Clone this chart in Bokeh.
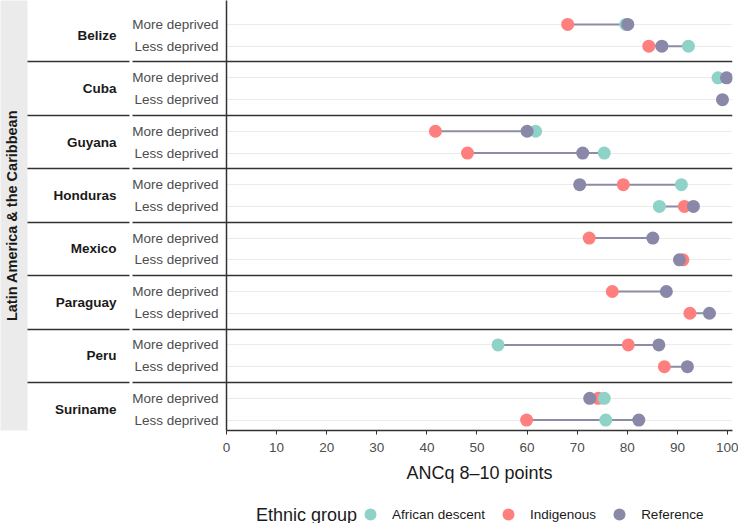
import math
from bokeh.plotting import figure
from bokeh.layouts import column
from bokeh.models import (Range1d, FixedTicker, LinearAxis, Legend, LegendItem,
                          ColumnDataSource, Label)
from bokeh.embed import file_html
from bokeh.resources import INLINE

# ---------------- data ----------------
region = "Latin America & the Caribbean"
countries = ["Belize", "Cuba", "Guyana", "Honduras", "Mexico", "Paraguay", "Peru", "Suriname"]
deprivation_levels = ["More deprived", "Less deprived"]
x_ticks = [0, 10, 20, 30, 40, 50, 60, 70, 80, 90, 100]
x_title = "ANCq 8\u201310 points"
legend_title = "Ethnic group"
group_names = ["African descent", "Indigenous", "Reference"]
nan = float("nan")
# rows: Belize More, Belize Less, Cuba More, Cuba Less, ...
african_descent = [79.7, 92.2, 98.1, nan, 61.7, 75.4, 90.8, 86.4,
                   nan, nan, nan, nan, 54.2, nan, 75.4, 75.7]
indigenous = [68.1, 84.3, nan, nan, 41.7, 48.1, 79.2, 91.4,
              72.4, 91.1, 77.0, 92.5, 80.2, 87.4, 74.2, 59.9]
reference = [80.1, 86.9, 99.8, 99.0, 60.0, 71.1, 70.5, 93.2,
             85.1, 90.4, 87.8, 96.4, 86.3, 92.0, 72.5, 82.3]

# ---------------- styling ----------------
FONT = "Liberation Sans"
COLORS = {"African descent": "#8FD3C8", "Indigenous": "#FF7F7F", "Reference": "#8A88A8"}
SEG_COLOR = "#8C8CA6"
DARK = "#333333"
ROW_OFFSETS = (0.297, 0.705)   # row positions inside each country panel

# ---------------- derived positions ----------------
row_y, row_labels = [], []
for i, c in enumerate(countries):
    for k, lev in enumerate(deprivation_levels):
        row_y.append(round(i + ROW_OFFSETS[k], 4))
        row_labels.append(lev)
centers = [round(i + (ROW_OFFSETS[0] + ROW_OFFSETS[1]) / 2, 4) for i in range(len(countries))]
separators = [float(i) for i in range(1, len(countries))]

series = {"African descent": african_descent, "Indigenous": indigenous, "Reference": reference}

seg_x0, seg_x1, seg_y = [], [], []
for r, y in enumerate(row_y):
    vals = [series[g][r] for g in group_names if not math.isnan(series[g][r])]
    if len(vals) > 1:
        seg_x0.append(min(vals)); seg_x1.append(max(vals)); seg_y.append(y)

p = figure(width=738, height=485, x_range=Range1d(0, 101), y_range=Range1d(7.90, -0.151),
           output_backend="svg", toolbar_location=None,
           min_border_left=0, min_border_right=6, min_border_top=0, min_border_bottom=0)
p.outline_line_color = None
p.background_fill_color = "white"
p.border_fill_color = "white"

# grids
p.xgrid.visible = False
row_ticker = FixedTicker(ticks=row_y, minor_ticks=separators)
p.yaxis.ticker = row_ticker
p.ygrid.ticker = row_ticker
p.ygrid.grid_line_color = "#EBEBEB"
p.ygrid.grid_line_width = 1
p.ygrid.minor_grid_line_color = DARK
p.ygrid.minor_grid_line_width = 1.5

# connecting segments
p.segment(x0=seg_x0, y0=seg_y, x1=seg_x1, y1=seg_y, line_color=SEG_COLOR, line_width=2)

# points (drawing order: Indigenous, African descent, Reference)
for g in ["Indigenous", "African descent", "Reference"]:
    xs = [v for v in series[g] if not math.isnan(v)]
    ys = [y for v, y in zip(series[g], row_y) if not math.isnan(v)]
    src = ColumnDataSource(dict(x=xs, y=ys))
    p.scatter("x", "y", source=src, size=13, fill_color=COLORS[g], line_color=None)

# x axis
xa = p.xaxis[0]
xa.ticker = FixedTicker(ticks=x_ticks)
xa.axis_label = x_title
xa.axis_label_text_font = FONT
xa.axis_label_text_font_size = "18px"
xa.axis_label_text_font_style = "normal"
xa.axis_label_text_color = "#1a1a1a"
xa.axis_label_standoff = 8
xa.major_label_text_font = FONT
xa.major_label_text_font_size = "13.5px"
xa.major_label_text_color = "#4d4d4d"
xa.major_label_standoff = 8
xa.major_tick_out = 4
xa.major_tick_in = 0
xa.minor_tick_out = 0
xa.minor_tick_in = 0
xa.major_tick_line_color = DARK
xa.axis_line_color = DARK
xa.axis_line_width = 1.5

# inner y axis: row labels (minor ticks continue the panel separators)
ROW_TICK = 94
ya = p.yaxis[0]
ya.major_label_overrides = {y: lab for y, lab in zip(row_y, row_labels)}
ya.major_tick_out = 0
ya.major_tick_in = 0
ya.minor_tick_in = 0
ya.minor_tick_out = ROW_TICK
ya.minor_tick_line_color = DARK
ya.minor_tick_line_width = 1.5
ya.major_label_standoff = 8 - ROW_TICK
ya.major_label_text_font = FONT
ya.major_label_text_font_size = "13.5px"
ya.major_label_text_color = "#4d4d4d"
ya.axis_line_color = DARK
ya.axis_line_width = 1.5

# middle axis: country names
CTRY_TICK = 106
ca = LinearAxis(ticker=FixedTicker(ticks=centers, minor_ticks=separators),
                major_label_overrides={y: c for y, c in zip(centers, countries)})
ca.axis_line_color = None
ca.major_tick_out = 0
ca.major_tick_in = 0
ca.minor_tick_in = 0
ca.minor_tick_out = CTRY_TICK
ca.minor_tick_line_color = DARK
ca.minor_tick_line_width = 1.5
ca.major_label_standoff = 13 - CTRY_TICK
ca.major_label_text_font = FONT
ca.major_label_text_font_size = "13.5px"
ca.major_label_text_font_style = "bold"
ca.major_label_text_color = "#1a1a1a"
ca.axis_label = " "
ca.axis_label_text_font_size = "10px"
ca.axis_label_standoff = 9
p.add_layout(ca, "left")

# outer axis: facet strip
sa = LinearAxis(ticker=FixedTicker(ticks=[], minor_ticks=[]))
sa.axis_line_color = None
sa.major_tick_out = 0
sa.major_tick_in = 0
sa.minor_tick_out = 0
sa.minor_tick_in = 0
sa.major_label_standoff = 0
sa.major_label_text_font_size = "0px"
sa.axis_label = region
sa.axis_label_text_font = FONT
sa.axis_label_text_font_size = "14.5px"
sa.axis_label_text_font_style = "bold"
sa.axis_label_text_color = "#1a1a1a"
sa.axis_label_standoff = 8
sa.background_fill_color = "#EBEBEB"
p.add_layout(sa, "left")

# ---------------- legend row (frame aligned with the plot frame) ----------------
lg = figure(width=738, height=38, x_range=Range1d(228, 732), y_range=Range1d(0, 38),
            output_backend="svg", toolbar_location=None,
            x_axis_location=None, y_axis_location=None,
            min_border_left=0, min_border_right=0, min_border_top=0, min_border_bottom=0)
lg.outline_line_color = None
lg.grid.visible = False
key_renderers = []
for g in group_names:
    key_renderers.append(lg.scatter(x=[nan], y=[nan], size=13, fill_color=COLORS[g],
                                    line_color=None))
legend = Legend(items=[LegendItem(label=g, renderers=[r]) for g, r in zip(group_names, key_renderers)],
                orientation="horizontal", location=(129, -6),
                glyph_width=30, glyph_height=30,
                label_standoff=7, spacing=8, padding=0, margin=0,
                border_line_color=None, background_fill_alpha=0,
                label_text_font=FONT, label_text_font_size="13.5px",
                label_text_color="#1a1a1a")
lg.add_layout(legend)
lg.add_layout(Label(x=358, y=9, text=legend_title, text_align="right", text_baseline="middle",
                    text_font=FONT, text_font_size="18px", text_color="#1a1a1a"))

open("out.html", "w").write(file_html(column(p, lg, spacing=0), INLINE))
